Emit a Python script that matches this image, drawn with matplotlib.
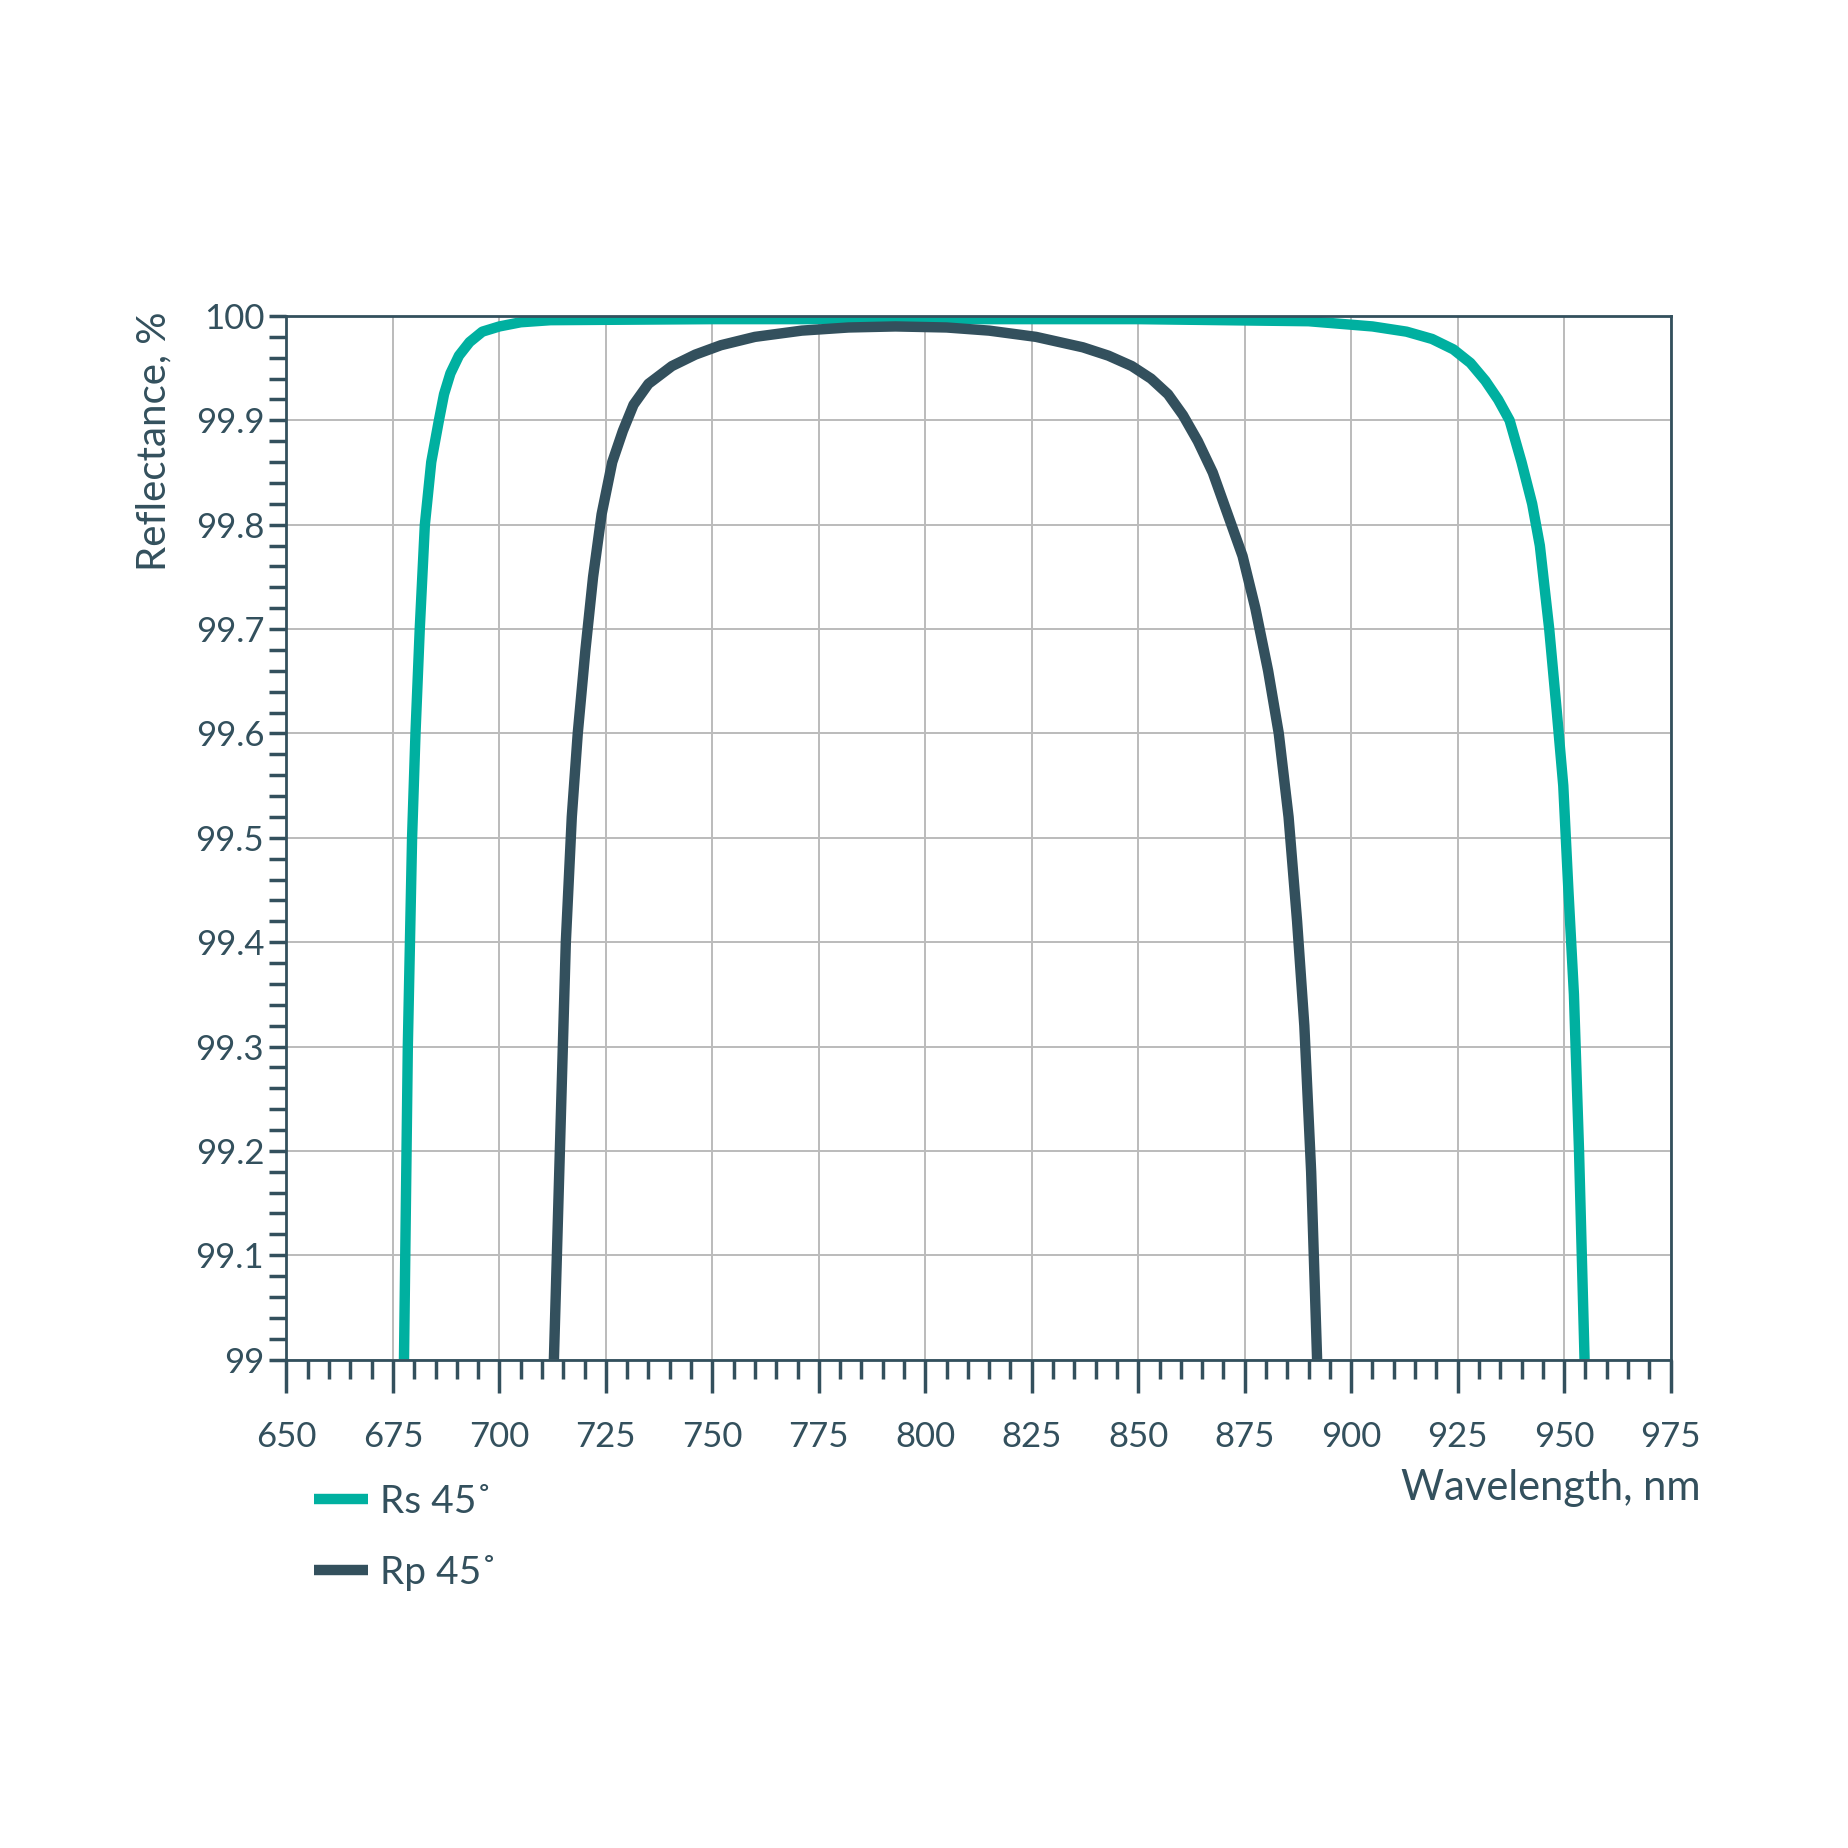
import numpy as np
import matplotlib
matplotlib.use("Agg")
import matplotlib.pyplot as plt
from matplotlib.ticker import MultipleLocator

# values
rs_wl = [677.6, 678.5, 679.5, 680.3, 681.3, 682.5, 684.0, 685.8, 687.0, 688.5, 690.5, 693.0, 696.0,
         700.0, 705.0, 712.0, 750.0, 800.0, 850.0, 890.0, 905.0, 913.0, 919.0, 924.0, 928.0, 931.5,
         934.5, 937.2, 940.0, 942.5, 944.3, 946.5, 948.3, 949.8, 951.0, 952.3, 953.5, 954.8]
rs_val = [99.0, 99.3, 99.5, 99.6, 99.7, 99.8, 99.86, 99.9, 99.925, 99.945, 99.962, 99.975, 99.985,
          99.99, 99.994, 99.996, 99.997, 99.997, 99.997, 99.995, 99.99, 99.985, 99.978, 99.968,
          99.955, 99.938, 99.92, 99.9, 99.86, 99.82, 99.78, 99.7, 99.62, 99.55, 99.45, 99.35, 99.2, 99.0]
rp_wl = [712.8, 714.2, 715.6, 717.0, 718.4, 720.2, 722.0, 724.0, 726.5, 729.0, 731.5, 735.0, 740.5,
         746.0, 752.0, 760.0, 771.0, 782.0, 793.0, 805.0, 815.0, 826.0, 837.0, 843.0, 848.5,
         853.0, 857.0, 860.5, 864.0, 867.5, 871.0, 874.5, 877.5, 880.5, 883.0, 885.3, 887.3,
         889.0, 890.6, 892.0]
rp_val = [99.0, 99.2, 99.4, 99.52, 99.6, 99.68, 99.75, 99.81, 99.86, 99.89, 99.915, 99.935, 99.952,
          99.963, 99.972, 99.98, 99.986, 99.989, 99.99, 99.989, 99.986, 99.98, 99.97, 99.962, 99.952,
          99.94, 99.925, 99.905, 99.88, 99.85, 99.81, 99.77, 99.72, 99.66, 99.6, 99.52, 99.42,
          99.32, 99.18, 99.0]

teal = "#00b0a0"
dark = "#33505d"

plt.rcParams['font.family'] = ['Lato', 'DejaVu Sans']

fig = plt.figure(figsize=(18.48, 18.48), dpi=100)
ax = fig.add_axes([0.155, 0.2643, 0.749, 0.5647])

l1, = ax.plot(rs_wl, rs_val, color=teal, lw=7.5, solid_capstyle='butt',
              solid_joinstyle='round', label="Rs 45˚")
l2, = ax.plot(rp_wl, rp_val, color=dark, lw=7.5, solid_capstyle='butt',
              solid_joinstyle='round', label="Rp 45˚")

ax.set_xlim(650, 975)
ax.set_ylim(99.0, 100.0)
ax.xaxis.set_major_locator(MultipleLocator(25))
ax.xaxis.set_minor_locator(MultipleLocator(5))
ax.yaxis.set_minor_locator(MultipleLocator(0.02))
ax.set_yticks(np.arange(99.0, 100.01, 0.1))
ax.set_yticklabels(["99", "99.1", "99.2", "99.3", "99.4", "99.5", "99.6", "99.7", "99.8", "99.9", "100"])
ax.grid(True, which='major', color='#bbbbbb', lw=1.4)
ax.set_axisbelow(True)

for s in ax.spines.values():
    s.set_color(dark)
    s.set_linewidth(2)
ax.tick_params(axis='both', which='major', colors=dark, labelcolor=dark, labelsize=25,
               width=2.5, length=24)
ax.tick_params(axis='both', which='minor', colors=dark, width=2.5, length=14)
ax.tick_params(axis='x', which='major', pad=20)
ax.tick_params(axis='y', which='major', length=12, pad=4)
ax.tick_params(axis='y', which='minor', length=12)

ax.set_ylabel("Reflectance, %", color=dark, fontsize=29)
ax.yaxis.set_label_coords(-0.082, 0.88)
fig.text(0.920, 0.195, "Wavelength, nm", color=dark, fontsize=30, ha='right', va='center')

fig.legend(handles=[l1, l2], loc='upper left', bbox_to_anchor=(0.151, 0.216), frameon=False,
           fontsize=28, labelcolor=dark, handlelength=1.4, handletextpad=0.3, labelspacing=0.9)

fig.savefig("out.png", dpi=100, facecolor='white')
